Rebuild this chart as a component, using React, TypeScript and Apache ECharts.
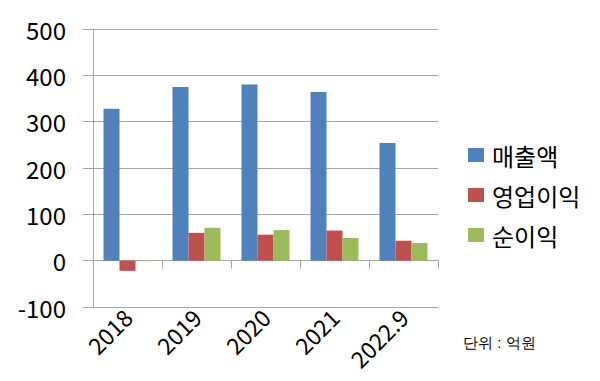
import React, { useEffect, useRef } from "react";
import * as echarts from "echarts";

const categories = ["2018", "2019", "2020", "2021", "2022.9"];
const seriesNames = ["매출액", "영업이익", "순이익"];
const revenue = [328, 375, 380, 364, 254];
const operatingProfit = [-22, 60, 56, 65, 43];
const netProfit = [-1, 71, 66, 49, 38];
const colors = ["#4F81BD", "#C0504D", "#9BBB59"];
const unitLabel = "단위 : 억원";

const FONT = "'Noto Sans CJK KR', 'Noto Sans', sans-serif";

export default function App() {
  const ref = useRef<HTMLDivElement>(null);
  useEffect(() => {
    document.body.style.margin = "0";
    if (!ref.current) return;
    const chart = echarts.init(ref.current, undefined, { renderer: "svg" });
    const values = [revenue, operatingProfit, netProfit];
    chart.setOption({
      animation: false,
      backgroundColor: "#fff",
      textStyle: { fontFamily: FONT },
      grid: { left: 93, right: 162, top: 29, bottom: 74 },
      legend: {
        orient: "vertical",
        left: 463,
        top: 138,
        icon: "rect",
        itemWidth: 16,
        itemHeight: 14,
        itemGap: 16,
        textStyle: { fontSize: 24, lineHeight: 24, color: "#000", fontFamily: FONT, padding: [0, 0, 0, 3] },
        data: seriesNames,
      },
      xAxis: [
        {
          type: "category",
          data: categories,
          axisLine: { show: false, onZero: false },
          axisTick: { show: false },
          axisLabel: { rotate: 45, fontSize: 23, color: "#000", margin: 6, fontFamily: FONT },
        },
        {
          type: "category",
          data: categories,
          position: "bottom",
          axisLine: { show: true, onZero: true, lineStyle: { color: "#A6A6A6", width: 1 } },
          axisTick: { show: true, length: 8, lineStyle: { color: "#A6A6A6" } },
          axisLabel: { show: false },
          splitLine: { show: false },
        },
      ],
      yAxis: {
        type: "value",
        min: -100,
        max: 500,
        interval: 100,
        axisLine: { show: true, lineStyle: { color: "#A6A6A6" } },
        axisTick: { show: true, length: 10, lineStyle: { color: "#A6A6A6" } },
        axisLabel: { fontSize: 24, color: "#000", margin: 27, fontFamily: FONT },
        splitLine: { show: true, lineStyle: { color: "#A6A6A6", width: 1 } },
      },
      series: seriesNames.map((name, i) => ({
        name,
        type: "bar",
        xAxisIndex: 0,
        data: values[i],
        barWidth: 16,
        barGap: "0%",
        itemStyle: { color: colors[i] },
      })),
      graphic: [
        {
          type: "text",
          left: 463,
          top: 335,
          style: { text: unitLabel, fontSize: 15, fill: "#000", font: `15px ${FONT}` },
        },
      ],
    });
    return () => chart.dispose();
  }, []);
  return <div ref={ref} style={{ width: 600, height: 381 }} />;
}
